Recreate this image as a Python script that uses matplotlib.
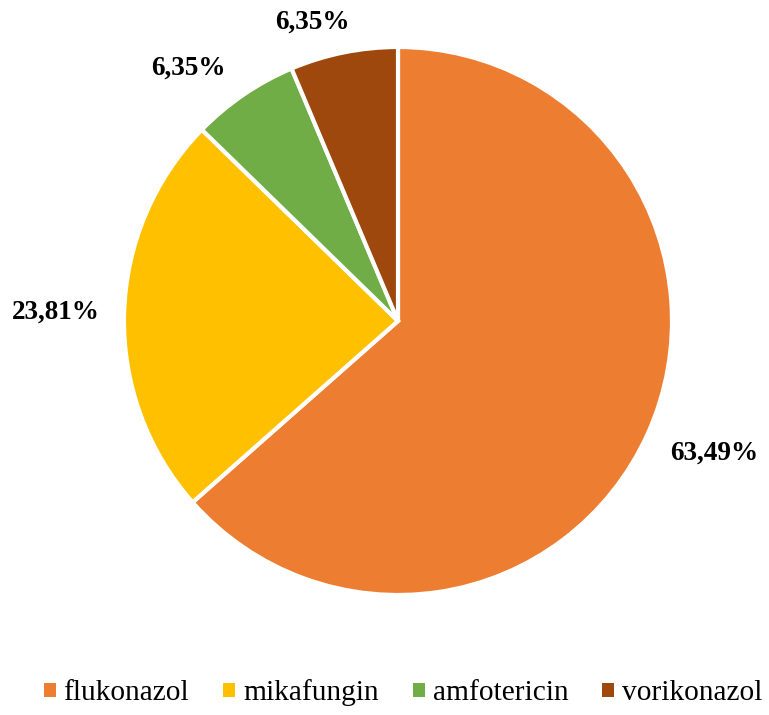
import numpy as np
import matplotlib.pyplot as plt
from matplotlib.patches import Patch

# podaci
lijekovi = ['flukonazol', 'mikafungin', 'amfotericin', 'vorikonazol']
udjeli = [63.49, 23.81, 6.35, 6.35]
oznake = ['63,49%', '23,81%', '6,35%', '6,35%']
boje = ['#ED7D31', '#FFC000', '#70AD47', '#9E480E']

# položaj oznaka (udaljenost od središta, pomak kuta u stupnjevima)
udaljenost = [1.25, 1.25, 1.2, 1.135]
pomak = [1.6, 0.0, 5.4, 4.5]

plt.rcParams['font.family'] = ['Liberation Serif', 'DejaVu Serif']

fig = plt.figure(figsize=(7.69, 7.15), dpi=100)
cx, cy, r = 398, 321, 274
ax = fig.add_axes([(cx - r) / 769, (715 - cy - r) / 715, 2 * r / 769, 2 * r / 715])

wedges, _ = ax.pie(udjeli, colors=boje, startangle=90, counterclock=False,
                   radius=1, wedgeprops=dict(edgecolor='white', linewidth=3))

for w, txt, d, p in zip(wedges, oznake, udaljenost, pomak):
    kut = np.deg2rad((w.theta1 + w.theta2) / 2 + p)
    ax.text(d * np.cos(kut), d * np.sin(kut), txt, ha='center', va='center',
            fontsize=19.5, fontweight='bold')

ax.set_xlim(-1, 1)
ax.set_ylim(-1, 1)
ax.set_aspect('equal')
ax.axis('off')

handles = [Patch(facecolor=b, edgecolor='none') for b in boje]
fig.legend(handles, lijekovi, loc='center', bbox_to_anchor=(403 / 769, 1 - 693 / 715),
           ncol=4, frameon=False, fontsize=21.2, handlelength=0.41, handleheight=0.34,
           handletextpad=0.27, columnspacing=1.15, borderpad=0)

fig.savefig('out.png', dpi=100)
